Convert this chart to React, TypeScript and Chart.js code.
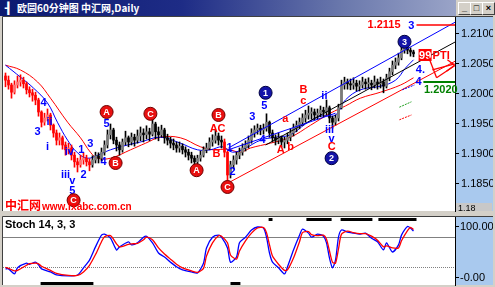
import React, { useEffect, useRef } from "react";
import { Chart, registerables } from "chart.js";
Chart.register(...registerables);

const FONT = '"Liberation Sans", Arial, Helvetica, sans-serif';
const PANEL = "#a9c9ee";

// ---------- price data (hourly bars) ----------
const FIRST_OPEN = 1.203;
const closes = [
  1.2023, 1.2015, 1.2003, 1.2015, 1.202, 1.2023, 1.2017, 1.2007, 1.2002, 1.1998,
  1.199, 1.197, 1.1953, 1.196, 1.1965, 1.1948, 1.1935, 1.1923, 1.1927, 1.1915,
  1.1907, 1.191, 1.1898, 1.1887, 1.1882, 1.189, 1.1893, 1.1887, 1.1882, 1.189,
  1.1897, 1.1893, 1.1903, 1.1915, 1.1932, 1.194, 1.1923, 1.1915, 1.1907, 1.192,
  1.1927, 1.192, 1.1928, 1.1923, 1.193, 1.1935, 1.1932, 1.1937, 1.1933, 1.195,
  1.1937, 1.1932, 1.194, 1.1927, 1.1923, 1.1918, 1.1915, 1.191, 1.1913, 1.1907,
  1.1903, 1.1898, 1.1893, 1.1887, 1.1893, 1.1898, 1.1907, 1.191, 1.192, 1.1923,
  1.193, 1.1923, 1.192, 1.1903, 1.1865, 1.1882, 1.189, 1.1898, 1.1903, 1.191,
  1.1915, 1.1923, 1.1935, 1.194, 1.1943, 1.194, 1.1943, 1.1953, 1.1935, 1.1927,
  1.1923, 1.1927, 1.192, 1.1923, 1.1928, 1.1935, 1.1943, 1.1948, 1.1953, 1.196,
  1.1965, 1.1968, 1.197, 1.1965, 1.1968, 1.1973, 1.197, 1.1977, 1.196, 1.1953,
  1.196, 1.1977, 1.2015, 1.202, 1.2017, 1.2015, 1.2018, 1.2013, 1.2015, 1.202,
  1.2017, 1.2018, 1.2015, 1.202, 1.2017, 1.202, 1.2013, 1.2027, 1.2037, 1.2048,
  1.2053, 1.206, 1.2073, 1.2077, 1.2073, 1.207, 1.2067,
];
const highs = [
  1.2035, 1.203, 1.2018, 1.2022, 1.203, 1.2032, 1.2028, 1.202, 1.2012, 1.2008,
  1.2003, 1.1993, 1.1972, 1.1968, 1.1975, 1.1968, 1.195, 1.194, 1.1935, 1.193,
  1.192, 1.1918, 1.1915, 1.1903, 1.1893, 1.1898, 1.1902, 1.1898, 1.1892, 1.1897,
  1.1903, 1.1902, 1.191, 1.1922, 1.194, 1.195, 1.1943, 1.1928, 1.192, 1.1925,
  1.1938, 1.193, 1.1935, 1.1933, 1.194, 1.1945, 1.1942, 1.1947, 1.1943, 1.196,
  1.1953, 1.1945, 1.1948, 1.1943, 1.1933, 1.1928, 1.1925, 1.192, 1.192, 1.1917,
  1.1912, 1.1908, 1.1903, 1.1897, 1.1898, 1.1905, 1.1912, 1.1918, 1.1927, 1.1932,
  1.194, 1.1935, 1.193, 1.1925, 1.1905, 1.1888, 1.1897, 1.1903, 1.191, 1.1917,
  1.1922, 1.193, 1.1942, 1.1947, 1.195, 1.1948, 1.195, 1.1967, 1.1955, 1.194,
  1.1932, 1.1935, 1.193, 1.1928, 1.1935, 1.1942, 1.195, 1.1955, 1.196, 1.1967,
  1.1973, 1.198, 1.1977, 1.1975, 1.1975, 1.198, 1.1978, 1.199, 1.198, 1.1963,
  1.1965, 1.1983, 1.2023, 1.2028, 1.2025, 1.2025, 1.2027, 1.2023, 1.2022, 1.2028,
  1.2025, 1.2027, 1.2023, 1.203, 1.2025, 1.2028, 1.2025, 1.2033, 1.2043, 1.2055,
  1.206, 1.2068, 1.208, 1.2085, 1.2082, 1.2077, 1.2073,
];
const lows = [
  1.2012, 1.2008, 1.1993, 1.2, 1.201, 1.2013, 1.201, 1.2, 1.1995, 1.1988,
  1.1982, 1.1963, 1.1945, 1.1948, 1.1955, 1.194, 1.1928, 1.1915, 1.1915, 1.1908,
  1.1898, 1.19, 1.189, 1.1878, 1.187, 1.1878, 1.1883, 1.188, 1.1872, 1.1878,
  1.1885, 1.1885, 1.1888, 1.1898, 1.191, 1.1925, 1.1917, 1.1905, 1.1898, 1.1903,
  1.1915, 1.1912, 1.1915, 1.1913, 1.1918, 1.1922, 1.192, 1.1925, 1.1922, 1.193,
  1.1925, 1.1922, 1.1928, 1.1918, 1.1915, 1.191, 1.1907, 1.1903, 1.1903, 1.19,
  1.1895, 1.189, 1.1885, 1.188, 1.1882, 1.1888, 1.1895, 1.1902, 1.1907, 1.1913,
  1.1918, 1.1915, 1.191, 1.1895, 1.1853, 1.186, 1.1875, 1.1883, 1.1892, 1.1898,
  1.1905, 1.191, 1.1918, 1.1928, 1.1933, 1.1932, 1.1933, 1.1938, 1.1928, 1.192,
  1.1915, 1.1917, 1.1912, 1.191, 1.1917, 1.1922, 1.193, 1.1937, 1.1942, 1.1948,
  1.1953, 1.1958, 1.1958, 1.1957, 1.1958, 1.1962, 1.1962, 1.1965, 1.1952, 1.1943,
  1.1948, 1.1955, 1.1975, 1.2008, 1.2008, 1.2007, 1.2008, 1.2005, 1.2005, 1.201,
  1.2008, 1.201, 1.2007, 1.201, 1.2008, 1.201, 1.2002, 1.201, 1.2022, 1.2032,
  1.2042, 1.2048, 1.2057, 1.2068, 1.2067, 1.2063, 1.2062,
];

// moving averages [bar index, price]
const blueMA: [number, number][] = [
  [0, 1.2048], [5, 1.2028], [9.3, 1.201], [14, 1.1985], [17.3, 1.1953], [20.7, 1.1923],
  [24, 1.1902], [27.3, 1.1893], [30.7, 1.1898], [35, 1.1907], [40.7, 1.1915], [45, 1.192],
  [51.7, 1.1928], [58.3, 1.1918], [64, 1.1907], [68.3, 1.1907], [72.3, 1.1912], [75.7, 1.1903],
  [80, 1.191], [85, 1.1923], [90, 1.1928], [95, 1.1932], [100, 1.195], [105, 1.1963],
  [110, 1.1965], [113.3, 1.199], [118.3, 1.2007], [125, 1.2013], [130, 1.2023], [133.3, 1.2043], [136, 1.2057],
];
const redMA: [number, number][] = [
  [0, 1.2048], [5, 1.204], [10.7, 1.202], [15, 1.1993], [20.7, 1.1953], [25, 1.1927],
  [28.3, 1.1903], [30.7, 1.1893], [35, 1.1893], [41.7, 1.1907], [46.7, 1.1918], [51.7, 1.1928],
  [58.3, 1.1927], [65, 1.1912], [69.3, 1.1907], [74, 1.1908], [78.3, 1.1903], [81.7, 1.191],
  [88.3, 1.1918], [95, 1.1928], [101.7, 1.1948], [108.3, 1.1968], [113.3, 1.198],
  [118.3, 1.1993], [125, 1.2003], [131.7, 1.2015], [136, 1.2027],
];

// trend lines [[idx, price], [idx, price]]
const channelBlueUpper: [number, number][] = [[74.3, 1.191], [150, 1.212]];
const channelBlueLower: [number, number][] = [[74.3, 1.1907], [110, 1.1968]];
const channelBlack: [number, number][] = [[86.7, 1.1915], [150, 1.2087]];
const channelRed: [number, number][] = [[74.3, 1.1852], [150, 1.2055]];

// wave labels [text, idx, price]
const blueWaves: [string, number, number][] = [
  ["4", 12.7, 1.1985], ["3", 10.7, 1.1937], ["ii", 14.7, 1.1953], ["i", 14.0, 1.1912],
  ["iv", 21.3, 1.1903], ["iii", 20.0, 1.1865], ["v", 22.3, 1.1855], ["5", 22.3, 1.1838],
  ["1", 25.3, 1.1907], ["2", 26.0, 1.1865], ["3", 28.3, 1.1917], ["4", 32.7, 1.1887],
  ["5", 33.7, 1.195], ["1", 74.7, 1.191], ["2", 75.7, 1.187], ["3", 82.3, 1.1962],
  ["5", 86.3, 1.198], ["4", 85.7, 1.1923], ["ii", 106.3, 1.1997], ["iii", 108.0, 1.194],
  ["v", 108.7, 1.1925], ["4.", 138.3, 1.204], ["4", 137.7, 1.202], ["3", 135.3, 1.2113],
];
const redWaves: [string, number, number][] = [
  ["a", 93.3, 1.1958], ["b", 95.0, 1.1912], ["A", 91.7, 1.1907], ["c", 99.3, 1.1988],
  ["B", 99.3, 1.2007], ["C", 108.7, 1.1912], ["AC", 70.7, 1.1942], ["B", 70.3, 1.19],
];
const redCircles: [string, number, number][] = [
  ["A", 33.7, 1.197], ["B", 36.7, 1.1885], ["C", 48.3, 1.1967], ["A", 63.7, 1.1873],
  ["B", 71.0, 1.1965], ["C", 74.0, 1.1845], ["C", 22.7, 1.1823],
];
const blueCircles: [string, number, number][] = [
  ["1", 86.7, 1.2002], ["2", 108.7, 1.1893], ["3", 133.0, 1.2087],
];
const targetHigh = 1.2115;
const targetLow = 1.202;
const ptiLabel = ["99", "PTI"];
const ptiPos: [number, number] = [137.7, 1.2065];
const ptiArrow: [number, number, number, number][] = [
  [141, 1.2062, 143.7, 1.2027], [143.7, 1.2027, 149.7, 1.2047], [142.3, 1.204, 149.7, 1.205],
  [147.3, 1.2057, 149.7, 1.2048], [149.7, 1.2048, 147, 1.2038],
];
const greenDash: [number, number, number, number] = [131.3, 1.1978, 135.3, 1.1987];
const redDash: [number, number, number, number] = [131.3, 1.1957, 135.3, 1.1965];
const blueDash: [number, number, number, number] = [132.3, 1.2007, 136.3, 1.2015];

// ---------- stochastic ----------
const stochIdx = [
  0, 1, 3, 4, 7, 8, 10, 11, 12, 15, 17, 21, 24, 26, 28, 30, 32, 33, 35, 37,
  38, 41, 42, 44, 46, 47, 49, 51, 53, 55, 57, 59, 62, 64, 66, 67, 69, 71, 72, 74,
  75, 77, 78, 80, 82, 84, 86, 87, 88, 89, 91, 93, 94, 96, 98, 99, 101, 102, 104, 106,
  107, 108, 109, 110, 111, 112, 114, 116, 118, 120, 122, 124, 126, 127, 129, 131, 132, 134, 135, 136,
];
const stochK = [
  17, 17, 7, 19, 28, 26, 30, 25, 17, 11, 5, 3, 5, 19, 34, 60, 83, 85, 77, 54,
  60, 70, 64, 68, 79, 81, 68, 48, 40, 30, 21, 15, 11, 9, 28, 58, 79, 83, 79, 58,
  30, 40, 68, 79, 93, 99, 97, 79, 48, 30, 19, 7, 21, 54, 83, 95, 87, 79, 85, 81,
  68, 38, 19, 34, 79, 93, 89, 87, 85, 87, 77, 70, 54, 68, 50, 64, 83, 100, 97, 91,
];
const stochD = [
  20, 18, 13, 14, 24, 27, 28, 27, 22, 14, 8, 4, 4, 11, 24, 45, 70, 80, 82, 66,
  60, 65, 66, 67, 74, 79, 74, 58, 46, 36, 26, 19, 13, 10, 18, 42, 68, 82, 81, 68,
  44, 36, 52, 72, 87, 97, 98, 88, 64, 42, 26, 14, 15, 38, 70, 88, 90, 84, 82, 83,
  75, 52, 30, 28, 56, 85, 91, 88, 86, 86, 81, 73, 60, 62, 58, 58, 72, 92, 98, 94,
];
const stochLevels = [80, 20];
const overboughtZones: [number, number][] = [[87.7, 89], [100.3, 108.7], [111.7, 122.3], [124.3, 137]];
const oversoldZones: [number, number][] = [[11.7, 29.3], [75, 78.3]];

const X_MIN = -0.8333;
const X_MAX = 149.8333;
const P_MIN = 1.1805;
const P_MAX = 1.21283;
const S_MIN = -14.7;
const S_MAX = 118.6;

const isRedBar = (i: number) => i <= 28 || i === 73 || i === 74;

function bgPlugin(id: string) {
  return {
    id,
    beforeDraw(chart: any) {
      const { ctx, chartArea: a, width } = chart;
      ctx.save();
      ctx.fillStyle = "#ffffff";
      ctx.fillRect(a.left, a.top, a.right - a.left, a.bottom - a.top);
      ctx.fillStyle = PANEL;
      ctx.fillRect(a.right, a.top, width - 2 - a.right, a.bottom - a.top);
      ctx.strokeStyle = "#404040";
      ctx.lineWidth = 1;
      ctx.beginPath();
      ctx.moveTo(a.left - 0.5, a.bottom);
      ctx.lineTo(a.left - 0.5, a.top - 0.5);
      ctx.lineTo(width - 2, a.top - 0.5);
      ctx.stroke();
      ctx.restore();
    },
  };
}

const mainAnnotations = {
  id: "mainAnnotations",
  afterDatasetsDraw(chart: any) {
    const { ctx, chartArea: a } = chart;
    const px = (v: number) => chart.scales.x.getPixelForValue(v);
    const py = (v: number) => chart.scales.y.getPixelForValue(v);
    ctx.save();
    ctx.textAlign = "center";
    ctx.textBaseline = "middle";
    ctx.font = `bold 11px ${FONT}`;

    const seg = (s: [number, number, number, number], color: string, w: number, dash: number[]) => {
      ctx.strokeStyle = color;
      ctx.lineWidth = w;
      ctx.setLineDash(dash);
      ctx.beginPath();
      ctx.moveTo(px(s[0]), py(s[1]));
      ctx.lineTo(px(s[2]), py(s[3]));
      ctx.stroke();
      ctx.setLineDash([]);
    };

    // target lines
    ctx.strokeStyle = "#ff0000";
    ctx.lineWidth = 1.5;
    ctx.beginPath();
    ctx.moveTo(px(137), py(targetHigh));
    ctx.lineTo(a.right, py(targetHigh));
    ctx.stroke();
    ctx.fillStyle = "#ff0000";
    ctx.textAlign = "right";
    ctx.fillText(targetHigh.toFixed(4), px(131.7), py(targetHigh));
    ctx.strokeStyle = "#008000";
    ctx.lineWidth = 2;
    ctx.beginPath();
    ctx.moveTo(px(139.3), py(targetLow));
    ctx.lineTo(a.right, py(targetLow));
    ctx.stroke();
    ctx.fillStyle = "#008000";
    ctx.textAlign = "left";
    ctx.textBaseline = "top";
    ctx.fillText(targetLow.toFixed(4), px(139.5), py(targetLow) + 2);
    ctx.textBaseline = "middle";

    // PTI
    const bx = px(ptiPos[0]);
    const by = py(ptiPos[1]);
    ctx.fillStyle = "#ff0000";
    ctx.fillRect(bx, by - 6, 13, 12);
    ctx.fillStyle = "#ffffff";
    ctx.fillText(ptiLabel[0], bx + 0.5, by + 0.5);
    ctx.fillStyle = "#ff0000";
    ctx.fillText(ptiLabel[1], bx + 14, by + 0.5);
    ptiArrow.forEach((s) => seg(s, "#ff0000", 1.3, []));
    seg(greenDash, "#20a020", 1, [2, 1]);
    seg(redDash, "#ff0000", 1, [2, 1]);
    seg(blueDash, "#0000ff", 1, [2, 1]);

    ctx.textAlign = "center";
    ctx.font = `bold 11px ${FONT}`;
    ctx.fillStyle = "#0000ff";
    blueWaves.forEach(([t, i, p]) => ctx.fillText(t, px(i), py(p)));
    ctx.fillStyle = "#ff0000";
    redWaves.forEach(([t, i, p]) => ctx.fillText(t, px(i), py(p)));

    const circle = (t: string, i: number, p: number, fill: string, stroke: string) => {
      const cx = px(i);
      const cy = py(p);
      ctx.beginPath();
      ctx.arc(cx, cy, 6.5, 0, Math.PI * 2);
      ctx.fillStyle = fill;
      ctx.fill();
      ctx.strokeStyle = stroke;
      ctx.lineWidth = 1;
      ctx.stroke();
      ctx.fillStyle = "#ffffff";
      ctx.font = `bold 9px ${FONT}`;
      ctx.fillText(t, cx, cy + 0.5);
    };
    redCircles.forEach(([t, i, p]) => circle(t, i, p, "#e81010", "#700000"));
    blueCircles.forEach(([t, i, p]) => circle(t, i, p, "#1414a8", "#000040"));

    // watermark
    ctx.textAlign = "left";
    ctx.textBaseline = "alphabetic";
    ctx.fillStyle = "#ff0000";
    ctx.font = `bold 12px "Noto Sans CJK SC", sans-serif`;
    ctx.fillText("中汇网", a.left + 2, a.bottom - 1);
    ctx.font = `bold 10px ${FONT}`;
    ctx.fillText("www.fxabc.com.cn", a.left + 39, a.bottom - 1);

    // small price box on the axis panel
    ctx.fillStyle = "#c8c8c8";
    ctx.fillRect(a.right + 1, a.bottom - 8, 36, 8);
    ctx.fillStyle = "#000";
    ctx.font = `9px ${FONT}`;
    ctx.fillText("1.18", a.right + 3, a.bottom - 0.5);
    ctx.restore();
  },
};

const subDecor = {
  id: "subDecor",
  beforeDatasetsDraw(chart: any) {
    const { ctx, chartArea: a } = chart;
    const py = (v: number) => chart.scales.y.getPixelForValue(v);
    ctx.save();
    ctx.strokeStyle = "#808080";
    ctx.lineWidth = 1;
    stochLevels.forEach((lv, k) => {
      const y = Math.round(py(lv)) + 0.5;
      ctx.setLineDash(k === 0 ? [] : [1, 1]);
      ctx.beginPath();
      ctx.moveTo(a.left, y);
      ctx.lineTo(a.right, y);
      ctx.stroke();
    });
    ctx.restore();
  },
  afterDatasetsDraw(chart: any) {
    const { ctx, chartArea: a } = chart;
    const px = (v: number) => chart.scales.x.getPixelForValue(v);
    ctx.save();
    ctx.fillStyle = "#000";
    overboughtZones.forEach(([s, e]) => ctx.fillRect(px(s), a.top + 1, px(e) - px(s), 3));
    oversoldZones.forEach(([s, e]) => ctx.fillRect(px(s), a.bottom - 3, px(e) - px(s), 3));
    ctx.font = `bold 11px ${FONT}`;
    ctx.textBaseline = "middle";
    ctx.fillText("Stoch 14, 3, 3", a.left + 2, a.top + 8);
    ctx.restore();
  },
};

export default function App() {
  const mainRef = useRef<HTMLCanvasElement>(null);
  const subRef = useRef<HTMLCanvasElement>(null);

  useEffect(() => {
    const opens = closes.map((c, i) => (i === 0 ? FIRST_OPEN : closes[i - 1]));
    const wickColors = closes.map((_, i) => (isRedBar(i) ? "#ff0000" : "#000000"));
    const bodyColors = closes.map((c, i) => {
      const bull = c >= opens[i];
      if (isRedBar(i)) return bull ? "#ff7070" : "#ff0000";
      return bull ? "#7a7a7a" : "#000000";
    });
    const lineDs = (pts: [number, number][], color: string, order: number, tension: number) => ({
      type: "line" as const,
      data: pts.map(([x, y]) => ({ x, y })),
      borderColor: color,
      borderWidth: 1,
      pointRadius: 0,
      tension,
      order,
    });

    const main = new Chart(mainRef.current!, {
      type: "bar",
      data: {
        datasets: [
          lineDs(blueMA, "#0000ff", 5, 0.4) as any,
          lineDs(redMA, "#ff0000", 5, 0.4) as any,
          {
            type: "bar",
            data: closes.map((_, i) => ({ x: i, y: [lows[i], highs[i]] })),
            backgroundColor: wickColors,
            barThickness: 1,
            grouped: false,
            order: 4,
          } as any,
          {
            type: "bar",
            data: closes.map((c, i) => ({ x: i, y: [opens[i], c] })),
            backgroundColor: bodyColors,
            barThickness: 2,
            minBarLength: 1,
            grouped: false,
            order: 3,
          } as any,
          lineDs(channelBlueUpper, "#0000ff", 1, 0) as any,
          lineDs(channelBlueLower, "#0000ff", 1, 0) as any,
          lineDs(channelBlack, "#000000", 1, 0) as any,
          lineDs(channelRed, "#ff0000", 1, 0) as any,
        ],
      },
      options: {
        animation: false,
        responsive: false,
        maintainAspectRatio: false,
        devicePixelRatio: 1,
        layout: { padding: { left: 3, top: 1, right: 2, bottom: 1 } },
        plugins: { legend: { display: false }, tooltip: { enabled: false } },
        scales: {
          x: { type: "linear", min: X_MIN, max: X_MAX, display: false, offset: false },
          y: {
            type: "linear",
            position: "right",
            min: P_MIN,
            max: P_MAX,
            ticks: {
              stepSize: 0.005,
              includeBounds: false,
              color: "#000",
              font: { family: FONT, size: 11 },
              padding: 2,
              callback: (v: any) => Number(v).toFixed(4),
            },
            grid: { drawOnChartArea: false, drawTicks: true, tickLength: 4, color: "#000" },
            border: { display: true, color: "#000" },
            afterFit: (s: any) => {
              s.width = 38;
              s.paddingTop = 0;
              s.paddingBottom = 0;
            },
          },
        },
      } as any,
      plugins: [bgPlugin("bgMain"), mainAnnotations],
    });

    const sub = new Chart(subRef.current!, {
      type: "line",
      data: {
        datasets: [
          {
            data: stochIdx.map((x, j) => ({ x, y: stochK[j] })),
            borderColor: "#0000ff",
            borderWidth: 1.3,
            pointRadius: 0,
            tension: 0.25,
            order: 1,
          },
          {
            data: stochIdx.map((x, j) => ({ x, y: stochD[j] })),
            borderColor: "#ff0000",
            borderWidth: 1.3,
            pointRadius: 0,
            tension: 0.25,
            order: 0,
          },
        ],
      },
      options: {
        animation: false,
        responsive: false,
        maintainAspectRatio: false,
        devicePixelRatio: 1,
        layout: { padding: { left: 3, top: 4, right: 2, bottom: 2 } },
        plugins: { legend: { display: false }, tooltip: { enabled: false } },
        scales: {
          x: { type: "linear", min: X_MIN, max: X_MAX, display: false },
          y: {
            type: "linear",
            position: "right",
            min: S_MIN,
            max: S_MAX,
            afterBuildTicks: (s: any) => {
              s.ticks = [{ value: 100 }, { value: 0 }];
            },
            ticks: {
              color: "#000",
              font: { family: FONT, size: 11 },
              padding: 1,
              callback: (v: any) => (Number(v) === 100 ? "100.00" : "-0.00"),
            },
            grid: { drawOnChartArea: false, drawTicks: true, tickLength: 4, color: "#000" },
            border: { display: true, color: "#000" },
            afterFit: (s: any) => {
              s.width = 38;
              s.paddingTop = 0;
              s.paddingBottom = 0;
            },
          },
        },
      } as any,
      plugins: [bgPlugin("bgSub"), subDecor],
    });

    return () => {
      main.destroy();
      sub.destroy();
    };
  }, []);

  const btn = (left: number, label: string) => (
    <div
      style={{
        position: "absolute",
        left,
        top: 2,
        width: 11,
        height: 11,
        background: "#d4d0c8",
        borderTop: "1px solid #fff",
        borderLeft: "1px solid #fff",
        borderRight: "1px solid #404040",
        borderBottom: "1px solid #404040",
        font: `bold 9px ${FONT}`,
        lineHeight: "11px",
        textAlign: "center",
        color: "#000",
      }}
    >
      {label}
    </div>
  );

  return (
    <div
      style={{
        position: "fixed",
        left: 0,
        top: 0,
        width: 495,
        height: 287,
        background: "#d4d0c8",
        overflow: "hidden",
      }}
    >
      <div
        style={{
          position: "absolute",
          left: 0,
          top: 0,
          width: 456,
          height: 16,
          background: "linear-gradient(90deg, #0c1a70 0%, #1e2c86 40%, #6a78ac 75%, #9aa4c8 100%)",
        }}
      >
        <span
          style={{
            position: "absolute",
            left: 5,
            top: 1,
            color: "#fff",
            font: `bold 11px ${FONT}`,
            lineHeight: "14px",
          }}
        >
          ┨
        </span>
        <span
          style={{
            position: "absolute",
            left: 17,
            top: 1,
            color: "#fff",
            fontFamily: '"Noto Sans CJK SC", sans-serif',
            fontWeight: "bold",
            fontSize: 10,
            lineHeight: "14px",
            whiteSpace: "nowrap",
          }}
        >
          欧圆60分钟图 中汇网,Daily
        </span>
      </div>
      {btn(458, "_")}
      {btn(470, "□")}
      {btn(482, "×")}
      <canvas ref={mainRef} width={495} height={196} style={{ position: "absolute", left: 0, top: 16 }} />
      <canvas ref={subRef} width={495} height={74} style={{ position: "absolute", left: 0, top: 213 }} />
    </div>
  );
}
